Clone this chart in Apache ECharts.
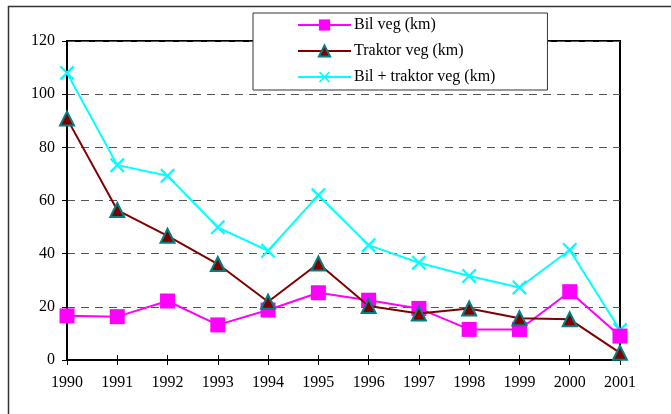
<!DOCTYPE html>
<html>
<head>
<meta charset="utf-8">
<script src="https://cdn.jsdelivr.net/npm/echarts@6/dist/echarts.min.js"></script>
<style>
  html, body { margin: 0; padding: 0; background: #fff; }
  #main { width: 671px; height: 414px; }
</style>
</head>
<body>
<div id="main"></div>
<script>
// år
var years = ['1990','1991','1992','1993','1994','1995','1996','1997','1998','1999','2000','2001'];
// verdier lest av bildet (km)
var bilVeg     = [16.6, 16.3, 22.2, 13.2, 18.8, 25.3, 22.5, 19.4, 11.5, 11.5, 25.7, 9.0];
var traktorVeg = [90.8, 56.4, 46.7, 36.1, 21.9, 36.3, 20.3, 17.5, 19.4, 15.7, 15.3, 2.7];
var bilTraktor = [108.0, 73.3, 69.3, 49.9, 41.1, 62.0, 43.2, 36.6, 31.6, 27.3, 41.4, 11.3];
var seriesNames = ['Bil veg (km)', 'Traktor veg (km)', 'Bil + traktor veg (km)'];

var font = 'Liberation Serif, Times New Roman, serif';
var crossPath = 'path://M0,1.5L1.5,0L7,5.5L12.5,0L14,1.5L8.5,7L14,12.5L12.5,14L7,8.5L1.5,14L0,12.5L5.5,7Z';

var option = {
    animation: false,
    backgroundColor: '#fff',
    graphic: [{
        type: 'rect',
        shape: { x: 8.5, y: 6.5, width: 700, height: 500 },
        style: { fill: 'none', stroke: '#333', lineWidth: 1.5 },
        z: -10
    }],
    grid: {
        left: 67, right: 51, top: 41, bottom: 54,
        show: true,
        borderColor: '#000',
        borderWidth: 2
    },
    legend: {
        orient: 'vertical',
        left: 253,
        top: 13,
        padding: [4, 52, 5, 44],
        itemWidth: 53,
        itemHeight: 14,
        itemGap: 10,
        backgroundColor: '#fff',
        borderColor: '#333',
        borderWidth: 1,
        textStyle: { fontFamily: font, fontSize: 16, color: '#000', padding: [0, 0, 0, -2] },
        data: seriesNames
    },
    xAxis: [{
        type: 'category',
        data: years,
        boundaryGap: false,
        axisLine: { lineStyle: { color: '#000', width: 2 } },
        axisTick: { length: 5, lineStyle: { color: '#000' } },
        axisLabel: { fontFamily: font, fontSize: 16, color: '#000', margin: 15 }
    }, {
        type: 'category',
        data: years,
        boundaryGap: false,
        position: 'bottom',
        axisLine: { show: false },
        axisTick: { inside: true, length: 5, lineStyle: { color: '#000' } },
        axisLabel: { show: false }
    }],
    yAxis: {
        type: 'value',
        min: 0, max: 120, interval: 20,
        axisLine: { show: true, lineStyle: { color: '#000', width: 2 } },
        axisTick: { show: true, length: 5, lineStyle: { color: '#000' } },
        axisLabel: { fontFamily: font, fontSize: 16, color: '#000', margin: 12 },
        splitLine: { lineStyle: { color: '#555', type: [8, 6], width: 1 } }
    },
    series: [
        {
            name: seriesNames[0],
            type: 'line',
            data: bilVeg,
            symbol: 'rect',
            symbolSize: 15,
            lineStyle: { color: '#ff00ff', width: 2 },
            itemStyle: { color: '#ff00ff' },
            z: 3
        },
        {
            name: seriesNames[1],
            type: 'line',
            data: traktorVeg,
            symbol: 'triangle',
            symbolSize: 14,
            lineStyle: { color: '#800000', width: 2 },
            itemStyle: { color: '#800000', borderColor: '#008080', borderWidth: 2 },
            z: 4
        },
        {
            name: seriesNames[2],
            type: 'line',
            data: bilTraktor,
            symbol: crossPath,
            symbolSize: 15,
            lineStyle: { color: '#00ffff', width: 2 },
            itemStyle: { color: '#00ffff' },
            z: 2
        }
    ]
};

var chart = echarts.init(document.getElementById('main'));
chart.setOption(option);
</script>
</body>
</html>
